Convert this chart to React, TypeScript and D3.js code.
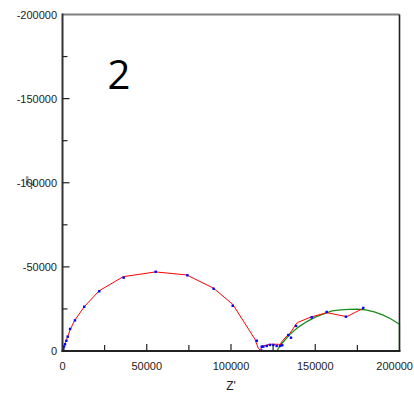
import React from "react";
import * as d3 from "d3";

// Blue measured points: Z' and Z'' (ohm)
const measReal = [500, 900, 1500, 2300, 3100, 4500, 7400, 12900, 21800, 36300, 55300, 74100, 89700, 101000, 115300,
  118200, 118200, 119200, 121200, 123100, 125100, 127100, 129100, 130400, 134000, 135600, 138600, 147900, 156800, 168200, 178500];
const measImag = [-1000, -2600, -4000, -6100, -8500, -13100, -18200, -26300, -35500, -43600, -47100, -45000, -37000, -26900, -6100,
  -2600, -200, -2600, -3000, -3600, -3600, -3000, -3000, -3400, -9500, -7900, -14900, -20000, -23200, -20400, -25600];

// Red line
const redReal = [100, 900, 2500, 4500, 7000, 12900, 21800, 36100, 55300, 73700, 89500, 101000, 114200, 116200, 117600,
  118200, 119200, 123100, 128100, 129100, 130100, 133100, 135000, 137000, 138400, 139900, 146900, 156800, 168700, 178500];
const redImag = [-600, -3200, -7000, -12500, -17800, -26300, -35800, -44200, -47000, -45200, -37400, -27800, -7000, -1600, -200,
  -2600, -3000, -4000, -4000, -3600, -5500, -8900, -10500, -13500, -15900, -17100, -20000, -22800, -20400, -25400];

// Green line
const greenReal = [127100, 130000, 135000, 140000, 145000, 150000, 155000, 160000, 165000, 170000, 175000, 180000, 185000, 190000, 195000, 200000, 205000, 210000, 214000];
const greenImag = [0, -4300, -9900, -14200, -17500, -20100, -22000, -23800, -24400, -24700, -24800, -24400, -23200, -21500, -19000, -15900, -12000, -7000, 0];

const xTicks = [0, 50000, 100000, 150000, 200000];
const yTicks = [0, -50000, -100000, -150000, -200000];
const xMinor = [25000, 75000, 125000, 175000];
const yMinor = [-25000, -75000, -125000, -175000];

export default function App() {
  const W = 414, H = 395;
  const L = 62.5, R = 399.5, T = 14.5, B = 351;
  const x = d3.scaleLinear().domain([0, 200000]).range([L, R]);
  const y = d3.scaleLinear().domain([0, -200000]).range([B, T]);
  const xc = x.copy().clamp(true);

  const redPts: [number, number][] = redReal.map((v, i) => [v, redImag[i]]);
  const greenPts: [number, number][] = greenReal.map((v, i) => [v, greenImag[i]]);
  const redPath = d3.line<[number, number]>().x(d => x(d[0])).y(d => y(d[1]))(redPts) || "";
  const greenPath = d3.line<[number, number]>().x(d => xc(d[0])).y(d => y(d[1]))(greenPts) || "";

  const font = "Liberation Sans, Arial, sans-serif";
  const last = xTicks[xTicks.length - 1];

  return (
    <svg width={W} height={H} style={{ position: "absolute", left: 0, top: 0, background: "#fff" }}>
      <defs>
        <clipPath id="plot">
          <rect x={L} y={T} width={R - L + 1} height={B - T + 1} />
        </clipPath>
      </defs>
      <rect x={0} y={0} width={W} height={H} fill="#fff" />
      <g clipPath="url(#plot)">
        <path d={greenPath} fill="none" stroke="#1a8c1a" strokeWidth={1.3} />
        <path d={redPath} fill="none" stroke="#ff0000" strokeWidth={1} />
        {measReal.map((v, i) => (
          <rect key={i} x={x(v) - 1.2} y={y(measImag[i]) - 1.2} width={2.4} height={2.4} fill="#0000ff" />
        ))}
      </g>
      {/* frame */}
      <line x1={L} y1={T} x2={R} y2={T} stroke="#808080" strokeWidth={2} />
      <line x1={R} y1={T} x2={R} y2={B} stroke="#222" strokeWidth={1.6} />
      <line x1={L} y1={T - 1} x2={L} y2={B + 1} stroke="#333" strokeWidth={2} />
      <line x1={L - 1} y1={B} x2={R + 1} y2={B} stroke="#222" strokeWidth={2} />
      {/* ticks */}
      {xTicks.slice(1, -1).map(t => (
        <line key={"xt" + t} x1={x(t)} x2={x(t)} y1={B} y2={B - 7} stroke="#222" strokeWidth={1.2} />
      ))}
      {xMinor.map(t => (
        <line key={"xm" + t} x1={x(t)} x2={x(t)} y1={B} y2={B - 6} stroke="#222" strokeWidth={1.2} />
      ))}
      {yTicks.slice(1, -1).map(t => (
        <line key={"yt" + t} x1={L} x2={L + 7} y1={y(t)} y2={y(t)} stroke="#222" strokeWidth={1.2} />
      ))}
      {yMinor.map(t => (
        <line key={"ym" + t} x1={L} x2={L + 5} y1={y(t)} y2={y(t)} stroke="#222" strokeWidth={1.2} />
      ))}
      {/* labels */}
      {xTicks.map(t => (
        <text key={"xl" + t} x={t === last ? 413 : x(t)} y={370} textAnchor={t === last ? "end" : "middle"}
          fontFamily={font} fontSize={11} fill="#222">
          {String(t)}
        </text>
      ))}
      {yTicks.map(t => (
        <text key={"yl" + t} x={57} y={y(t) + 4} textAnchor="end" fontFamily={font} fontSize={11} fill="#222">
          {String(t)}
        </text>
      ))}
      <text x={231} y={390} textAnchor="middle" fontFamily={font} fontSize={12} fill="#222">Z'</text>
      <text transform={`translate(34,${y(-100000)}) rotate(-90)`} textAnchor="middle" fontFamily={font} fontSize={10} fill="#222">-Z''</text>
      <text x={119} y={89} textAnchor="middle" fontFamily="Open Sans, Noto Sans, sans-serif" fontSize={40} fill="#000">2</text>
    </svg>
  );
}
